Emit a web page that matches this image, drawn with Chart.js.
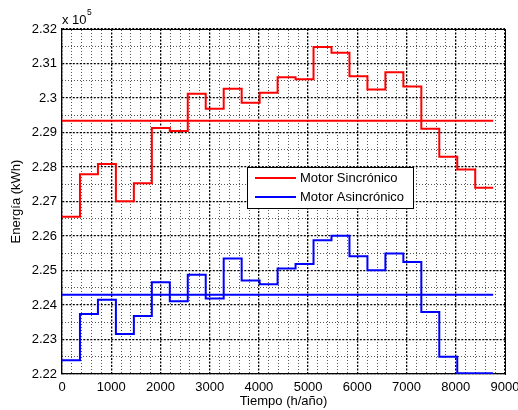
<!DOCTYPE html>
<html>
<head>
<meta charset="utf-8">
<script src="https://cdn.jsdelivr.net/npm/chart.js@4/dist/chart.umd.min.js"></script>
<style>
html,body{margin:0;padding:0;background:#fff;}
canvas{display:block;}
</style>
</head>
<body>
<canvas id="c" width="518" height="410"></canvas>
<script>
// Breakpoints of the step series (h/año)
const hours = [0,365,730,1095,1460,1825,2190,2555,2920,3285,3650,4015,4380,4745,5110,5475,5840,6205,6570,6935,7300,7665,8030,8395,8760];
// Energy values (x 10^5 kWh) for each 365 h segment
const sincronico = [2.2656,2.2779,2.2809,2.2701,2.2753,2.2913,2.2904,2.3012,2.2969,2.3027,2.2986,2.3015,2.3060,2.3054,2.3148,2.3131,2.3063,2.3025,2.3075,2.3033,2.2911,2.2830,2.2793,2.2740];
const asincronico = [2.2240,2.2374,2.2415,2.2316,2.2368,2.2466,2.2411,2.2488,2.2419,2.2535,2.2471,2.2460,2.2506,2.2519,2.2588,2.2601,2.2541,2.2501,2.2549,2.2525,2.2380,2.2250,2.2202,2.2202];
// Mean lines
const mediaSincronico = 2.2934;
const mediaAsincronico = 2.2430;
const seriesNames = ['Motor Sincrónico','Motor Asincrónico'];
const seriesColors = ['#ff0000','#0000ff'];
// Axis ticks
const xTicksMajor = 1000, xTicksMinor = 200, xMin = 0, xMax = 9000;
const yTicksMajor = 0.01, yTicksMinor = 0.005, yMin = 2.22, yMax = 2.32;

const FONT = '"Liberation Sans", Arial, sans-serif';
const FS = 13;

function stepPoints(vals){
  return hours.map((h,i)=>({x:h, y: vals[Math.min(i, vals.length-1)]}));
}
function flat(v){
  return [{x:hours[0], y:v},{x:hours[hours.length-1], y:v}];
}

const overlay = {
  id:'overlay',
  afterDatasetsDraw(chart){
    const ctx = chart.ctx, a = chart.chartArea;
    ctx.save();
    // legend box
    const bx = a.left + 185, by = a.top + 138, bw = 166, bh = 41;
    ctx.fillStyle = '#fff';
    ctx.fillRect(bx, by, bw, bh);
    ctx.strokeStyle = '#000';
    ctx.lineWidth = 1;
    ctx.strokeRect(bx + 0.5, by + 0.5, bw, bh);
    ctx.font = FS + 'px ' + FONT;
    ctx.textBaseline = 'middle';
    ctx.textAlign = 'left';
    seriesNames.forEach((n,i)=>{
      const yy = by + 11 + i*19;
      ctx.strokeStyle = seriesColors[i];
      ctx.lineWidth = 2;
      ctx.beginPath();
      ctx.moveTo(bx + 8, yy);
      ctx.lineTo(bx + 49, yy);
      ctx.stroke();
      ctx.fillStyle = '#000';
      ctx.fillText(n, bx + 53, yy + 0.5);
    });
    // exponent label
    ctx.fillStyle = '#000';
    ctx.textBaseline = 'alphabetic';
    ctx.font = FS + 'px ' + FONT;
    ctx.fillText('x 10', a.left, 23.5);
    const w = ctx.measureText('x 10').width;
    ctx.font = '8.5px ' + FONT;
    ctx.fillText('5', a.left + w + 0.5, 14.5);
    ctx.restore();
  }
};

new Chart(document.getElementById('c'), {
  type:'line',
  data:{
    datasets:[
      {label:seriesNames[0], data:stepPoints(sincronico), stepped:'before', borderColor:seriesColors[0], borderWidth:2, pointRadius:0, xAxisID:'x', yAxisID:'y'},
      {label:seriesNames[1], data:stepPoints(asincronico), stepped:'before', borderColor:seriesColors[1], borderWidth:2, pointRadius:0, xAxisID:'x', yAxisID:'y'},
      {label:'media1', data:flat(mediaSincronico), borderColor:seriesColors[0], borderWidth:2, pointRadius:0, xAxisID:'x', yAxisID:'y'},
      {label:'media2', data:flat(mediaAsincronico), borderColor:seriesColors[1], borderWidth:2, pointRadius:0, xAxisID:'x', yAxisID:'y'}
    ]
  },
  options:{
    responsive:false,
    animation:false,
    layout:{padding:{left:0, top:29, right:13, bottom:0}},
    plugins:{legend:{display:false}, tooltip:{enabled:false}},
    scales:{
      x2:{
        type:'linear', position:'top', min:xMin, max:xMax,
        ticks:{display:false, stepSize:xTicksMinor},
        grid:{drawTicks:false, lineWidth:1,
          color:c=> (Math.round(c.tick.value) % xTicksMajor === 0) ? 'rgba(0,0,0,0)' : '#555'},
        border:{display:true, color:'#000', width:1, dash:[1,2]},
        afterFit:s=>{s.height=0; s.paddingLeft=0; s.paddingRight=0;}
      },
      y2:{
        type:'linear', position:'right', min:yMin, max:yMax,
        ticks:{display:false, stepSize:yTicksMinor},
        grid:{drawTicks:false, lineWidth:1,
          color:c=> (Math.round(c.tick.value*1000) % 10 === 0) ? 'rgba(0,0,0,0)' : '#555'},
        border:{display:true, color:'#000', width:1, dash:[1,2]},
        afterFit:s=>{s.width=0; s.paddingTop=0; s.paddingBottom=0;}
      },
      x:{
        type:'linear', position:'bottom', min:xMin, max:xMax,
        ticks:{stepSize:xTicksMajor, color:'#000', padding:6, maxRotation:0, autoSkip:false,
          font:{family:FONT, size:FS}, callback:v=>String(Math.round(v))},
        grid:{drawTicks:false, color:'#000', lineWidth:1.3},
        border:{display:true, color:'#000', width:1.3, dash:[2,1.5]},
        title:{display:true, text:'Tiempo (h/año)', color:'#000', font:{family:FONT, size:FS}, padding:{top:0, bottom:1}},
        afterFit:s=>{s.height=36; s.paddingLeft=0; s.paddingRight=0;}
      },
      y:{
        type:'linear', position:'left', min:yMin, max:yMax,
        ticks:{stepSize:yTicksMajor, color:'#000', padding:5, autoSkip:false,
          font:{family:FONT, size:FS},
          callback:v=>parseFloat(v.toFixed(2)).toString()},
        grid:{drawTicks:false, color:'#000', lineWidth:1.3},
        border:{display:true, color:'#000', width:1.3, dash:[2,1.5]},
        title:{display:true, text:'Energía (kWh)', color:'#000', font:{family:FONT, size:FS}, padding:{top:9, bottom:0}},
        afterFit:s=>{s.width=62; s.paddingTop=0; s.paddingBottom=0;}
      }
    }
  },
  plugins:[overlay]
});
</script>
</body>
</html>
